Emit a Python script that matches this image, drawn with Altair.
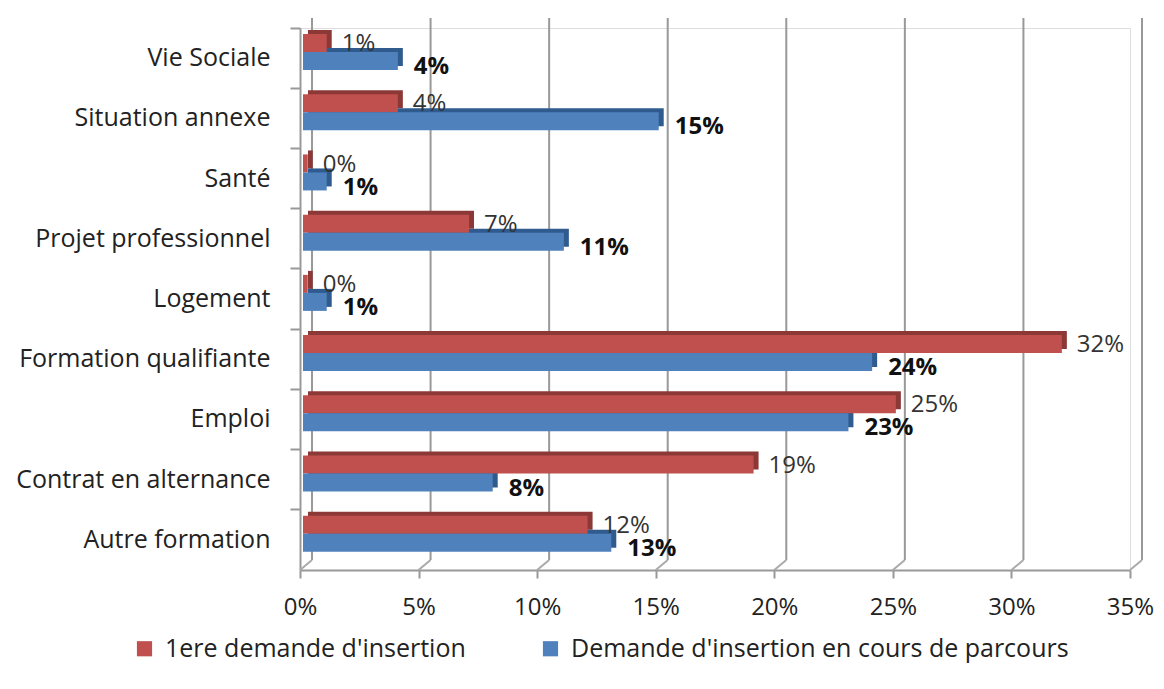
import altair as alt
import pandas as pd

categories = ["Vie Sociale", "Situation annexe", "Santé", "Projet professionnel",
              "Logement", "Formation qualifiante", "Emploi",
              "Contrat en alternance", "Autre formation"]
first_request = [1, 4, 0.2, 7, 0.2, 32, 25, 19, 12]
in_progress = [4, 15, 1, 11, 1, 24, 23, 8, 13]
series_names = ["1ere demande d'insertion", "Demande d'insertion en cours de parcours"]
x_ticks = [0, 0.05, 0.10, 0.15, 0.20, 0.25, 0.30, 0.35]

FONT = "Open Sans"
RED, BLUE = "#C0504D", "#4F81BD"
RED_D, BLUE_D = "#8C3836", "#2F5B8F"

rows = []
for c, a, b in zip(categories, first_request, in_progress):
    rows.append({"category": c, "series": series_names[0], "value": a / 100})
    rows.append({"category": c, "series": series_names[1], "value": b / 100})
df = pd.DataFrame(rows)
ticks_df = pd.DataFrame({"value": x_ticks})

W, H = 830, 542

y_axis = alt.Axis(title=None, bandPosition=0, labelLimit=400,
                  labelFontSize=25, labelFont=FONT, labelColor="#222",
                  labelPadding=20, tickSize=10, tickColor="#999",
                  tickWidth=2, domainColor="#999", domainWidth=2)
x_axis = alt.Axis(title=None, format=".0%", values=x_ticks, grid=False,
                  labelFlush=False, labelOverlap=False,
                  labelFontSize=24, labelFont=FONT, labelColor="#222",
                  labelPadding=17, tickSize=8, tickColor="#999",
                  tickWidth=2, domainColor="#999", domainWidth=2)
x_scale = alt.Scale(domain=[0, 0.35], nice=False, zero=True)
y_scale = alt.Scale(paddingInner=0, paddingOuter=0)

y_enc = alt.Y("category:N", sort=categories, scale=y_scale, axis=y_axis)
x_enc = alt.X("value:Q", scale=x_scale, axis=x_axis)

yoff = alt.YOffset("series:N", sort=series_names,
                   scale=alt.Scale(paddingInner=0, paddingOuter=0, range=[6, 42]))

color_enc = alt.Color("series:N", sort=series_names,
                      scale=alt.Scale(domain=series_names, range=[RED, BLUE]),
                      legend=alt.Legend(orient="none", legendX=-168, legendY=608,
                                        direction="horizontal", title=None,
                                        labelFontSize=25, labelFont=FONT,
                                        labelColor="#222", symbolType="square",
                                        symbolSize=230, symbolStrokeWidth=0,
                                        columnPadding=72, labelOffset=8,
                                        labelLimit=600))

grid = alt.Chart(ticks_df).mark_rule(color="#999", strokeWidth=2, xOffset=12).encode(
    x=x_enc, y=alt.value(-10), y2=alt.value(H - 10))
floor = alt.Chart(ticks_df).mark_rule(color="#aaa", strokeWidth=2, x2Offset=12).encode(
    x=x_enc, x2="value:Q", y=alt.value(H), y2=alt.value(H - 10))

# darker "depth" faces, slightly up/right of the front faces
depth = alt.Chart(df).mark_bar(xOffset=8, x2Offset=7).encode(
    y=y_enc,
    yOffset=alt.YOffset("series:N", sort=series_names,
                        scale=alt.Scale(paddingInner=0, paddingOuter=0, range=[2, 38])),
    x=x_enc,
    color=alt.Color("series:N", sort=series_names,
                    scale=alt.Scale(domain=series_names, range=[RED_D, BLUE_D]),
                    legend=None)
)
bars = alt.Chart(df).mark_bar(xOffset=3, x2Offset=3).encode(
    y=y_enc, yOffset=yoff, x=x_enc, color=color_enc
)

red_lbl = alt.Chart(df).transform_filter(
    alt.datum.series == series_names[0]
).mark_text(align="left", baseline="middle", dx=18, dy=-14, fontSize=24,
            font=FONT, color="#333").encode(
    y=y_enc, x=x_enc, text=alt.Text("value:Q", format=".0%"))
blue_lbl = alt.Chart(df).transform_filter(
    alt.datum.series == series_names[1]
).mark_text(align="left", baseline="middle", dx=19, dy=9, fontSize=24,
            font=FONT, fontWeight="bold", color="#111").encode(
    y=y_enc, x=x_enc, text=alt.Text("value:Q", format=".0%"))

chart = alt.layer(grid, floor, depth, bars, red_lbl, blue_lbl).resolve_scale(
    color="independent", yOffset="independent"
).properties(
    width=W, height=H,
    autosize=alt.AutoSizeParams(type="none"),
    padding={"left": 292, "top": 20, "right": 26, "bottom": 96},
).configure_view(stroke=None).configure(background="white")

chart.save("out.html", embed_options={"renderer": "svg", "actions": False})
